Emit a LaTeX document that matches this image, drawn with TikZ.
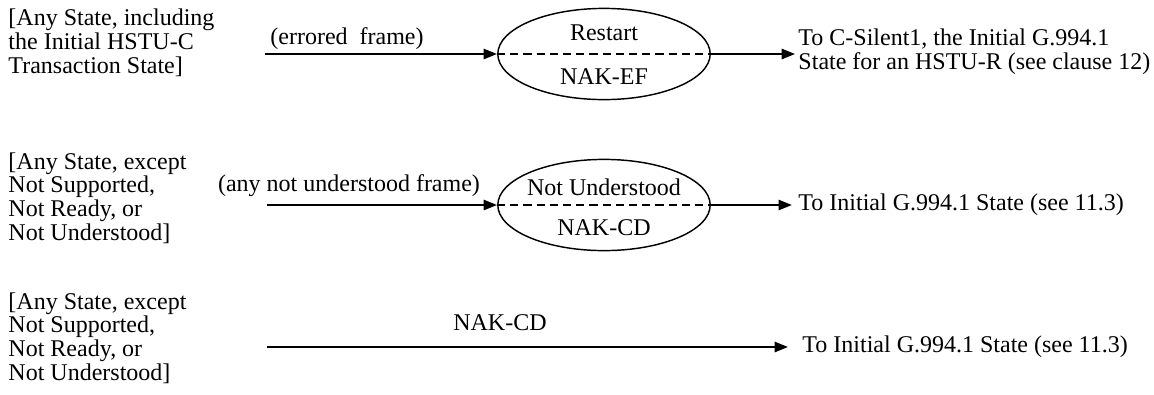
\documentclass[tikz,border=0pt]{standalone}
\usepackage{fontspec}
\setmainfont{Liberation Serif}
\usetikzlibrary{arrows.meta}
\usetikzlibrary{shapes.geometric}
\tikzset{
ellstate/.style={
  ellipse,draw,line width=.6pt,
  minimum width=88.5pt,minimum height=38pt,
  inner sep=0pt
},
txt/.style={font=\fontsize{10pt}{9.9pt}\selectfont,inner sep=0pt},
cond/.style={txt,align=left,anchor=west},
trans/.style={line width=1pt,-{Triangle[length=5.6pt,width=4.2pt]}},
divide/.style={line width=1pt,dash pattern=on 3.4pt off 2.1pt},
}

\begin{document}
\begin{tikzpicture}[x=0.4167pt,y=-0.4167pt]
\useasboundingbox (0,0) rectangle (1154,394);
% the states
\node[ellstate] (restart) at (604,54) {};
\node[ellstate] (notund) at (604,205) {};
\draw[divide] (restart.west) -- (restart.east);
\draw[divide] (notund.west) -- (notund.east);
\path (restart.center) ++(0,-21) node[txt] (restart-up) {Restart};
\path (restart.center) ++(0,23) node[txt] (restart-low) {NAK-EF};
\path (notund.center) ++(0,-18) node[txt] (notund-up) {Not Understood};
\path (notund.center) ++(0,23) node[txt] (notund-low) {NAK-CD};
% the conditions on the left
\node[cond] (from1) at (8,43) {[Any State, including\\the Initial HSTU-C\\Transaction State]};
\node[cond] (from2) at (8,198) {[Any State, except\\Not Supported,\\Not Ready, or\\Not Understood]};
\node[cond] (from3) at (8,338) {[Any State, except\\Not Supported,\\Not Ready, or\\Not Understood]};
% the targets on the right
\node[cond] (to1) at (798,52) {To C-Silent1, the Initial G.994.1\\State for an HSTU-R (see clause 12)};
\node[cond] (to2) at (798,205) {To Initial G.994.1 State (see 11.3)};
\node[cond] (to3) at (802,347) {To Initial G.994.1 State (see 11.3)};
% the arrows
\coordinate (start1) at (265,54);
\coordinate (start2) at (267,205);
\coordinate (start3) at (267,347);
\draw[trans] (start1) -- (restart.west);
\draw[trans] (start2) -- (notund.west);
\draw[trans,shorten >=1.2pt] (restart.east) -- (to1.west |- restart.east);
\draw[trans,shorten >=2.5pt] (notund.east) -- (to2.west);
\draw[trans,shorten >=5.8pt] (start3) -- (to3.west);
% the labels
\node[txt] (lab1) at (347,39) {(errored\ \ frame)};
\node[txt] (lab2) at (349,186) {(any not understood frame)};
\node[txt] (lab3) at (500,323) {NAK-CD};
\end{tikzpicture}
\end{document}
